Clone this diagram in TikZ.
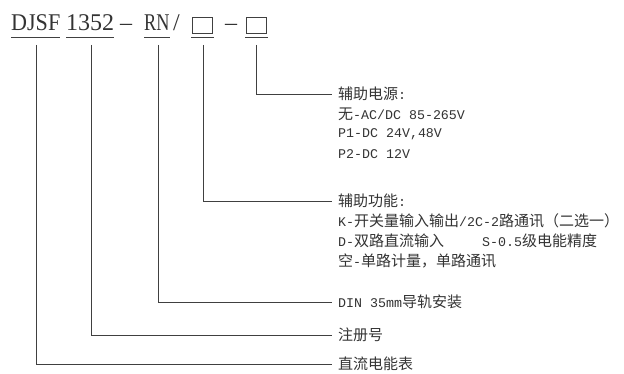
\documentclass[tikz,border=0pt]{standalone}
\usepackage{fontspec}
\setmainfont{Liberation Serif}
\newfontfamily\cjk{Noto Sans CJK SC}
\newfontfamily\lat{Liberation Mono}
\definecolor{ink}{HTML}{333333}
\definecolor{wire}{HTML}{404040}
\newcommand\zh[1]{{\cjk\fontsize{15}{20}\selectfont #1}}
\begin{document}
\begin{tikzpicture}[x=1pt,y=-1pt,
  wireline/.style={draw=wire, line width=0.9pt},
  ttl/.style={inner sep=0pt, anchor=base west, text=ink, font=\fontsize{24}{24}\selectfont},
  blank/.style={draw=wire, line width=0.9pt, minimum width=20pt, minimum height=16pt, inner sep=0pt, anchor=north west},
  lbl/.style={anchor=west, inner sep=0pt, text=ink, font=\lat\fontsize{13.3}{20}\selectfont}]
\useasboundingbox (0,0) rectangle (624,374);
% title
\node[ttl] (djsf) at (11,31) {\scalebox{0.92}[1]{DJSF}};
\node[ttl] (num) at (66,31) {1352};
\node[ttl] (d1) at (120,31) {\textendash};
\node[ttl] (rn) at (144,31) {\scalebox{0.76}[1]{RN}};
\node[ttl] (sl) at (173,31) {/};
\node[blank] (b1) at (192,17) {};
\node[ttl] (d2) at (225,31) {\textendash};
\node[blank] (b2) at (246,17) {};
\draw[wireline] ([yshift=-6pt]djsf.base west) -- ([yshift=-6pt]djsf.base east);
\draw[wireline] ([yshift=-6pt]num.base west) -- ([yshift=-6pt]num.base east);
\draw[wireline] ([yshift=-6pt]rn.base west) -- ([yshift=-6pt]rn.base east);
\draw[wireline] ([xshift=-1pt,yshift=-4pt]b1.south west) -- ([xshift=1pt,yshift=-4pt]b1.south east);
\draw[wireline] ([xshift=-1pt,yshift=-4pt]b2.south west) -- ([xshift=1pt,yshift=-4pt]b2.south east);
% connector starts
\coordinate (c1) at (36,45);
\coordinate (c2) at (91,45);
\coordinate (c3) at (158,45);
\coordinate (c4) at (203,45);
\coordinate (c5) at (256,45);
% labels
\node[lbl] (p1) at (338,94) {\zh{辅助电源}:};
\node[lbl] (p2) at (338,114) {\zh{无}-AC/DC 85-265V};
\node[lbl] (p3) at (338,134) {P1-DC 24V,48V};
\node[lbl] (p4) at (338,154) {P2-DC 12V};
\node[lbl] (f1) at (338,201) {\zh{辅助功能}:};
\node[lbl] (f2) at (338,221) {K-\zh{开关量输入输出}/2C-2\zh{路通讯（二选一）}};
\node[lbl] (f3) at (338,241) {D-\zh{双路直流输入}};
\node[lbl] (f3b) at (482,241) {S-0.5\zh{级电能精度}};
\node[lbl] (f4) at (338,261) {\zh{空}-\zh{单路计量，单路通讯}};
\node[lbl] (din) at (338,302) {DIN 35mm\zh{导轨安装}};
\node[lbl] (reg) at (338,335) {\zh{注册号}};
\node[lbl] (dc) at (338,364) {\zh{直流电能表}};
% connectors
\draw[wireline] (c5) |- ([xshift=-6pt]p1.west);
\draw[wireline] (c4) |- ([xshift=-6pt]f1.west);
\draw[wireline] (c3) |- ([xshift=-6pt]din.west);
\draw[wireline] (c2) |- ([xshift=-6pt]reg.west);
\draw[wireline] (c1) |- ([xshift=-6pt]dc.west);
\end{tikzpicture}
\end{document}
